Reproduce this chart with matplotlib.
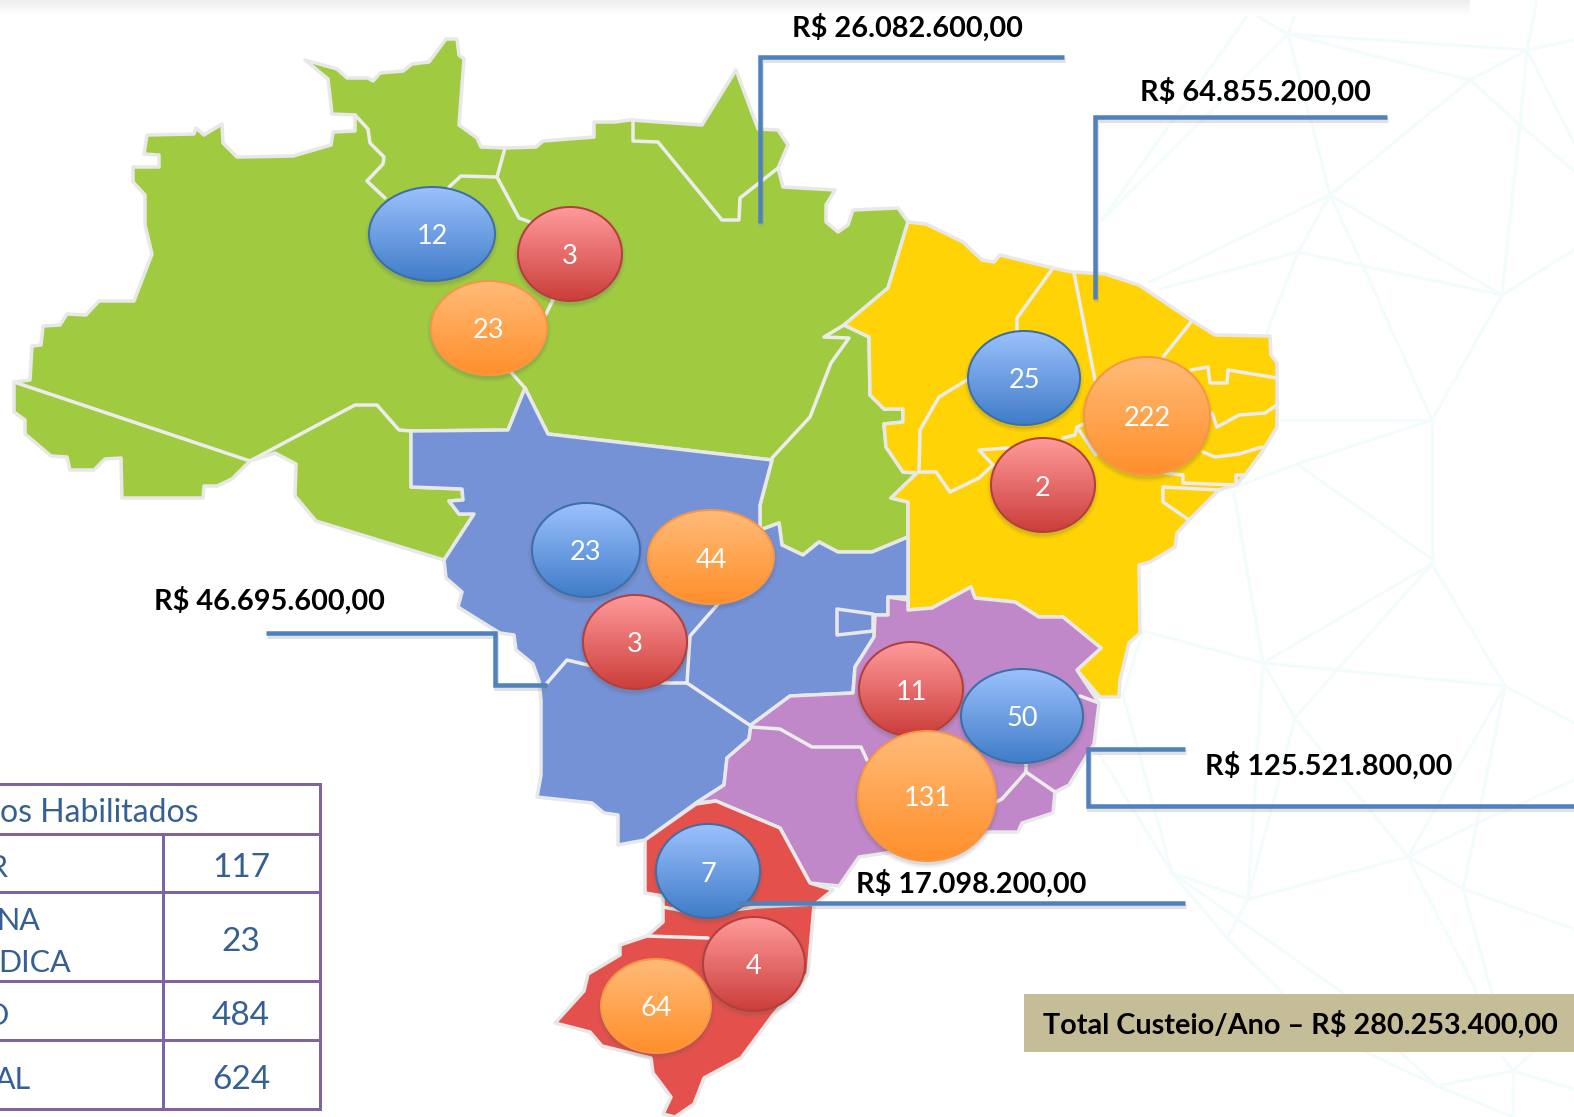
import numpy as np
import matplotlib
matplotlib.use("Agg")
import matplotlib.pyplot as plt
from matplotlib.patches import Polygon, Ellipse, Rectangle

plt.rcParams['font.family'] = ['Lato', 'DejaVu Sans']

# ---- data ----
bubble_values = ["12", "3", "23", "23", "44", "3", "25", "222", "2", "11", "50", "131", "7", "4", "64"]
bubble_kinds = ["b", "r", "o", "b", "o", "r", "b", "o", "r", "r", "b", "o", "b", "r", "o"]
amounts = ["R$ 26.082.600,00", "R$ 64.855.200,00", "R$ 46.695.600,00", "R$ 125.521.800,00", "R$ 17.098.200,00"]
total_label = "Total Custeio/Ano – R$ 280.253.400,00"
table_title = "os Habilitados"
table_labels = ["R", "NA", "DICA", "O", "AL"]
table_values = ["117", "23", "484", "624"]

# ---- geometry (pixels of the picture) ----
north = [(14,382),(30,380),(32,346),(41,345),(43,326),(60,325),(67,314),(86,315),(99,301),(134,301),(152,254),(145,225),(145,195),(133,182),(133,167),(159,167),(159,155),(144,154),(147,135),(194,134),(196,128),(204,135),(222,124),(223,143),(237,157),(293,156),(331,145),(333,132),(355,131),(355,115),(332,114),(328,79),(305,60),(337,69),(347,78),(368,78),(373,81),(380,73),(403,71),(412,64),(429,62),(446,39),(457,39),(459,55),(464,59),(459,125),(477,138),(481,147),(505,148),(536,147),(543,141),(594,137),(594,122),(615,122),(630,120),(702,125),(736,70),(758,129),(778,130),(788,145),(778,168),(783,187),(835,190),(826,205),(826,222),(838,232),(848,225),(853,210),(898,208),(908,222),(888,288),(844,325),(869,337),(870,395),(884,409),(903,409),(903,422),(884,424),(886,447),(903,472),(917,473),(891,498),(908,502),(908,537),(872,552),(838,552),(819,542),(803,555),(782,545),(779,523),(760,530),(760,505),(772,460),(548,434),(525,388),(508,430),(411,431),(411,487),(462,489),(463,500),(449,501),(459,514),(474,514),(444,560),(434,557),(316,521),(295,496),(296,464),(275,453),(250,461),(232,479),(217,486),(204,486),(203,498),(122,498),(121,458),(105,459),(94,470),(70,470),(67,457),(51,456),(25,434),(25,420),(14,412)]
northeast = [(908,222),(926,224),(963,242),(982,260),(994,262),(1000,255),(1053,268),(1072,272),(1105,274),(1139,285),(1191,320),(1215,335),(1270,336),(1271,355),(1277,363),(1277,427),(1262,452),(1245,475),(1236,485),(1219,490),(1189,520),(1177,533),(1175,547),(1150,562),(1139,565),(1140,633),(1129,643),(1120,680),(1119,697),(1100,697),(1077,670),(1101,648),(1063,617),(1039,617),(1015,602),(975,598),(971,587),(932,608),(908,610),(908,537),(908,502),(891,498),(917,473),(903,472),(886,447),(884,424),(903,422),(903,409),(884,409),(870,395),(869,337),(844,325),(888,288)]
centerwest = [(411,431),(508,430),(525,388),(548,434),(772,460),(760,505),(760,530),(779,523),(782,545),(803,555),(819,542),(838,552),(872,552),(908,537),(908,597),(888,597),(888,615),(875,615),(874,637),(855,667),(853,693),(790,696),(751,725),(749,739),(727,758),(724,785),(696,803),(645,840),(618,845),(618,815),(604,813),(592,803),(537,797),(541,775),(541,700),(539,681),(533,664),(516,650),(514,635),(500,633),(490,627),(458,607),(462,592),(446,578),(444,560),(474,514),(459,514),(449,501),(463,500),(462,489),(411,487)]
southeast = [(888,615),(888,597),(908,600),(908,610),(932,608),(971,587),(975,598),(1015,602),(1039,617),(1063,617),(1101,648),(1077,670),(1099,703),(1094,744),(1069,785),(1055,792),(1053,813),(1022,823),(1018,832),(988,832),(940,845),(859,857),(839,886),(810,883),(780,828),(716,801),(696,803),(724,785),(727,758),(749,739),(751,725),(790,696),(853,693),(855,667),(874,637),(875,615)]
south = [(645,840),(696,804),(716,801),(780,828),(810,883),(833,890),(814,905),(808,974),(773,1015),(741,1058),(704,1078),(694,1104),(675,1117),(663,1114),(671,1097),(653,1073),(651,1058),(602,1046),(590,1032),(555,1023),(584,991),(588,974),(620,955),(620,945),(647,936),(663,922),(663,896),(645,893)]
federal = [(837,609),(873,614),(873,631),(837,635)]
regions = [(north, "#a0cb41"), (northeast, "#ffd305"), (centerwest, "#7592d6"), (southeast, "#c088c8"), (south, "#e4514c"), (federal, "#7592d6")]

inner_lines = [
    [(14,382),(250,461),(355,405),(377,405),(399,430),(411,431)],
    [(355,115),(368,129),(370,143),(384,157),(383,164),(367,181),(385,198)],
    [(505,148),(497,177),(519,218),(530,222),(553,300),(546,314),(510,371),(525,388)],
    [(497,177),(461,176),(449,187)],
    [(633,120),(633,141),(658,142),(722,220),(739,220),(740,198),(778,168)],
    [(844,325),(824,337),(849,338),(831,363),(810,417),(772,458)],
    [(1053,268),(1017,318),(1017,332)],
    [(1074,273),(1095,380)],
    [(1191,322),(1163,357)],
    [(1191,370),(1208,367),(1210,383),(1227,383),(1228,370),(1277,378)],
    [(1212,413),(1217,427),(1239,415),(1265,413),(1277,405)],
    [(1203,452),(1215,457),(1239,454),(1262,447)],
    [(1165,473),(1183,475),(1183,483),(1236,485),(1236,475),(1245,475)],
    [(1219,490),(1163,487),(1163,502),(1189,520)],
    [(967,380),(939,397),(920,430),(919,472),(936,472),(950,492),(979,478),(993,465),(979,450),(1008,448)],
    [(1063,438),(1075,435),(1077,427),(1086,423)],
    [(1079,430),(1096,455)],
    [(718,604),(690,636),(687,683),(751,726)],
    [(687,683),(663,683),(567,660),(547,683)],
    [(751,727),(780,729),(812,747),(861,747),(867,760)],
    [(1026,763),(1026,772),(1002,799),(994,803)],
    [(1026,772),(1055,792)],
    [(1080,696),(1099,703)],
    [(663,907),(700,914),(757,907),(814,904)],
    [(647,936),(708,938)],
]

# centre x, centre y, half width, half height
bubble_shapes = [(432,234,63,47),(570,254,52,47),(489,328,58,47),(586,550,54,47),(711,557,63,47),(635,642,52,47),
                 (1024,378,56,47),(1147,416,63,59),(1043,485,52,47),(911,689,52,47),(1022,716,61,47),(927,796,69,65),
                 (708,871,52,47),(754,964,51,47),(656,1006,55,47)]
bubble_colors = {"b": ("#9cc1fd", "#3f7cc8", "#3c6fa8"),
                 "r": ("#ff9b9b", "#cb3d3a", "#b33f3d"),
                 "o": ("#ffbb78", "#ff8f2b", "#f79646")}

connectors = [[(760,223),(760,57),(1064,57)],
              [(1095,299),(1095,117),(1387,117)],
              [(266,633),(495,633),(495,685),(547,685)],
              [(1185,749),(1088,749),(1088,806),(1574,806)],
              [(737,903),(1185,903)]]
amount_pos = [(792,37),(1140,101),(154,610),(1205,775),(856,893)]

net_nodes = {'A':(1250,12),'B':(1288,34),'C':(1527,50),'D':(1470,80),'E':(1520,125),'F':(1330,195),'G':(1298,252),
             'H':(1363,266),'I':(1502,295),'J':(1432,420),'K':(1297,464),'L':(1233,488),'M':(1102,220),
             'N':(1432,564),'O':(1263,663),'P':(1337,670),'Q':(1505,686),'R':(1295,718),'S':(1408,857),'T':(1477,823),
             'U':(1463,889),'V':(1248,899),'W':(1172,873),'X':(1227,938)}
net_edges = ["AB","BC","BD","CD","CE","DE","DF","BF","FG","FH","FI","GH","HI","EI","IJ","HJ","JK","KL","MA","MB",
             "NO","NP","OP","PQ","NQ","OR","PR","OV","RV","RS","QT","QS","ST","TU","SU","SV","VW","VX","JN","WX","LO"]
net_free = [((1298,252),(1267,332)),((1330,195),(1150,282)),((1298,252),(1160,289)),((1432,420),(1280,420)),
            ((1297,464),(1433,560)),((1527,50),(1537,0)),
            ((1520,125),(1574,171)),((1502,295),(1574,250)),((1527,50),(1574,40)),((1527,50),(1574,143)),
            ((1250,12),(1262,0)),((1288,34),(1300,0)),((1505,686),(1574,723)),((1172,873),(1100,755)),
            ((1172,873),(1123,695)),((1123,695),(1143,631)),((1143,631),(1263,663)),((1463,889),(1574,929)),
            ((1408,857),(1477,993)),((1463,889),(1492,993)),((1477,823),(1574,780)),((1172,873),(1343,993)),
            ((1227,938),(1283,993)),((1366,1052),(1437,1086)),((1400,1052),(1437,1086)),((1437,1086),(1513,1071)),
            ((1437,1086),(1513,1117)),((1513,1071),(1574,1089)),((1513,1071),(1533,1052)),((1503,1057),(1513,1071)),
            ((1513,1071),(1513,1117))]

px = 0.72
fig = plt.figure(figsize=(15.74, 11.17), dpi=100, facecolor="white")
ax = fig.add_axes([0, 0, 1, 1])
ax.set_xlim(0, 1574); ax.set_ylim(1117, 0); ax.axis("off")

# background net
netc = "#f3fcfc"
for e in net_edges:
    a, b = net_nodes[e[0]], net_nodes[e[1]]
    ax.plot([a[0], b[0]], [a[1], b[1]], color=netc, lw=3*px, zorder=1)
for a, b in net_free:
    ax.plot([a[0], b[0]], [a[1], b[1]], color=netc, lw=3*px, zorder=1)

# top shadow band
band = np.linspace(0, 1, 16)[:, None]
ax.imshow(0.93 + 0.07*band, extent=(0, 1470, 16, 0), cmap="gray", vmin=0, vmax=1, aspect="auto", zorder=1.5)

# map
for pts, col in regions:
    ax.add_patch(Polygon(pts, closed=True, facecolor=col, edgecolor="#e8e8e8", lw=3.5*px, joinstyle="round", zorder=2))
for line in inner_lines:
    ax.plot(*zip(*line), color="#ececec", lw=3.5*px, solid_joinstyle="round", solid_capstyle="round", zorder=3)

# bubbles, each one fully above the previous one
for i, (val, kind, (cx, cy, rx, ry)) in enumerate(zip(bubble_values, bubble_kinds, bubble_shapes)):
    z = 4 + i*0.05
    top, bot, edge = bubble_colors[kind]
    for grow, alpha in ((4, 0.05), (2.5, 0.07), (1, 0.10)):
        ax.add_patch(Ellipse((cx, cy+3), 2*rx+2*grow, 2*ry+2*grow, facecolor="#555555", alpha=alpha, lw=0, zorder=z))
    t = np.linspace(0, 1, 128)[:, None, None]
    c0 = np.array(matplotlib.colors.to_rgb(top))[None, None, :]
    c1 = np.array(matplotlib.colors.to_rgb(bot))[None, None, :]
    grad = c0*(1-t) + c1*t
    im = ax.imshow(grad, extent=(cx-rx, cx+rx, cy+ry, cy-ry), aspect="auto", zorder=z+0.01, interpolation="bilinear")
    clip = Ellipse((cx, cy), 2*rx, 2*ry, transform=ax.transData, facecolor="none", edgecolor="none")
    ax.add_patch(clip)
    im.set_clip_path(clip)
    ax.add_patch(Ellipse((cx, cy), 2*rx, 2*ry, facecolor="none", edgecolor=edge, lw=2*px, zorder=z+0.02))
    ax.text(cx, cy+3, val, color="white", fontsize=19.5, ha="center", va="center", zorder=z+0.03)

# connectors
for pts, (tx, ty), label in zip(connectors, amount_pos, amounts):
    xs, ys = zip(*pts)
    ax.plot(np.array(xs)+1, np.array(ys)+3, color="#888888", alpha=0.25, lw=5*px, zorder=5.7, solid_joinstyle="miter", solid_capstyle="butt")
    ax.plot(xs, ys, color="#4f81bd", lw=4.5*px, zorder=6, solid_joinstyle="miter", solid_capstyle="butt")
    ax.text(tx, ty, label, color="black", fontsize=20.8, fontweight="bold", ha="left", va="baseline", zorder=7)

# total box
ax.add_patch(Rectangle((1024, 994), 550, 58, facecolor="#c4bd97", edgecolor="none", zorder=6))
ax.text(1043, 1034, total_label, color="black", fontsize=20.7, fontweight="bold", ha="left", va="baseline", zorder=7)

# table
tc = "#8064a2"; txt = "#366092"
ys = [784, 834, 892, 981, 1040, 1109]
for y in ys:
    ax.plot([0, 320], [y, y], color=tc, lw=3*px, zorder=6, solid_capstyle="projecting")
ax.plot([320, 320], [ys[0], ys[-1]], color=tc, lw=3*px, zorder=6, solid_capstyle="projecting")
ax.plot([163, 163], [ys[1], ys[-1]], color=tc, lw=3*px, zorder=6)
ax.text(0, 813, table_title, color=txt, fontsize=23, ha="left", va="center", zorder=7)
ax.text(-12, 868, table_labels[0], color=txt, fontsize=22, ha="left", va="center", zorder=7)
ax.text(-4, 921, table_labels[1], color=txt, fontsize=22, ha="left", va="center", zorder=7)
ax.text(-2, 963, table_labels[2], color=txt, fontsize=22, ha="left", va="center", zorder=7)
ax.text(-15, 1016, table_labels[3], color=txt, fontsize=22, ha="left", va="center", zorder=7)
ax.text(-5, 1080, table_labels[4], color=txt, fontsize=22, ha="left", va="center", zorder=7)
for v, yc in zip(table_values, [868, 942, 1016, 1080]):
    ax.text(241, yc, v, color=txt, fontsize=24, ha="center", va="center", zorder=7)

ax.set_xlim(0, 1574); ax.set_ylim(1117, 0)
fig.savefig("out.png", dpi=100)
